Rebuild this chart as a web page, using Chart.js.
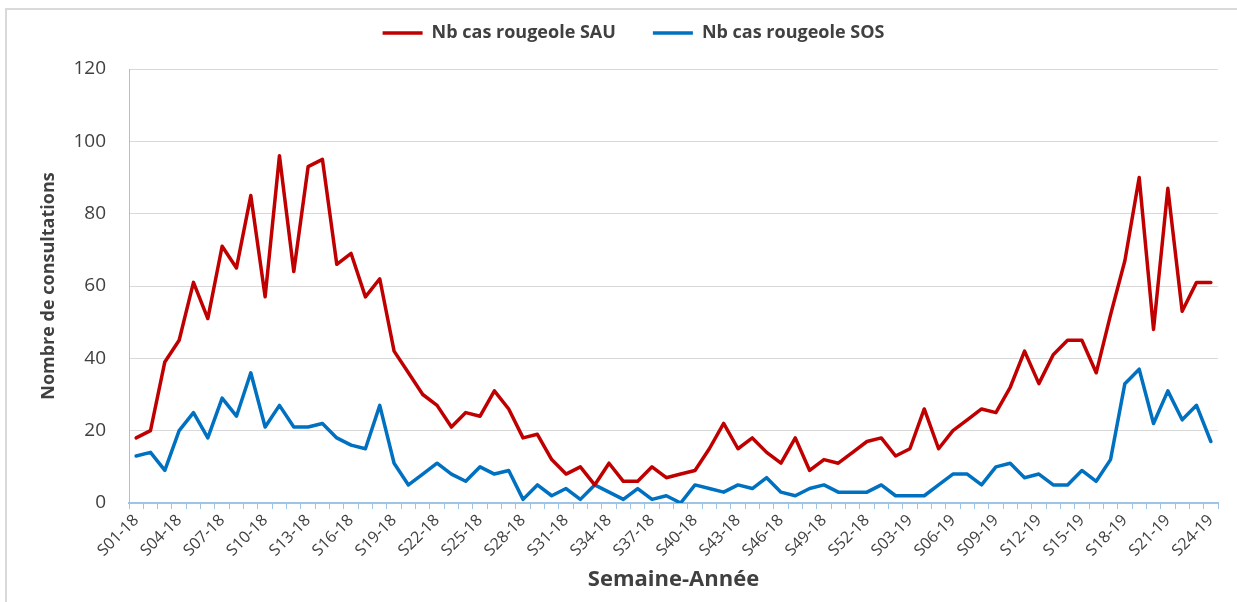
<!DOCTYPE html>
<html>
<head>
<meta charset="utf-8">
<script src="https://cdn.jsdelivr.net/npm/chart.js@4.4.1/dist/chart.umd.min.js"></script>
<style>
  html, body { margin: 0; padding: 0; background: #ffffff; }
  #wrap { position: relative; width: 1237px; height: 602px; }
</style>
</head>
<body>
<div id="wrap"><canvas id="c" width="1237" height="602"></canvas></div>
<script>
// Categories: week-year
const weeks = [
  'S01-18','S02-18','S03-18','S04-18','S05-18','S06-18','S07-18','S08-18','S09-18','S10-18',
  'S11-18','S12-18','S13-18','S14-18','S15-18','S16-18','S17-18','S18-18','S19-18','S20-18',
  'S21-18','S22-18','S23-18','S24-18','S25-18','S26-18','S27-18','S28-18','S29-18','S30-18',
  'S31-18','S32-18','S33-18','S34-18','S35-18','S36-18','S37-18','S38-18','S39-18','S40-18',
  'S41-18','S42-18','S43-18','S44-18','S45-18','S46-18','S47-18','S48-18','S49-18','S50-18',
  'S51-18','S52-18',
  'S01-19','S02-19','S03-19','S04-19','S05-19','S06-19','S07-19','S08-19','S09-19','S10-19',
  'S11-19','S12-19','S13-19','S14-19','S15-19','S16-19','S17-19','S18-19','S19-19','S20-19',
  'S21-19','S22-19','S23-19','S24-19'
];

// Nb cas rougeole SAU
const sau = [
  18, 20, 39, 45, 61, 51, 71, 65, 85, 57,
  96, 64, 93, 95, 66, 69, 57, 62, 42, 36,
  30, 27, 21, 25, 24, 31, 26, 18, 19, 12,
  8, 10, 5, 11, 6, 6, 10, 7, 8, 9,
  15, 22, 15, 18, 14, 11, 18, 9, 12, 11,
  14, 17,
  18, 13, 15, 26, 15, 20, 23, 26, 25, 32,
  42, 33, 41, 45, 45, 36, 52, 67, 90, 48,
  87, 53, 61, 61
];

// Nb cas rougeole SOS
const sos = [
  13, 14, 9, 20, 25, 18, 29, 24, 36, 21,
  27, 21, 21, 22, 18, 16, 15, 27, 11, 5,
  8, 11, 8, 6, 10, 8, 9, 1, 5, 2,
  4, 1, 5, 3, 1, 4, 1, 2, 0, 5,
  4, 3, 5, 4, 7, 3, 2, 4, 5, 3,
  3, 3,
  5, 2, 2, 2, 5, 8, 8, 5, 10, 11,
  7, 8, 5, 5, 9, 6, 12, 33, 37, 22,
  31, 23, 27, 17
];

// Y axis ticks
const yTicks = [0, 20, 40, 60, 80, 100, 120];

const seriesNames = ['Nb cas rougeole SAU', 'Nb cas rougeole SOS'];
const xTitle = 'Semaine-Année';
const yTitle = 'Nombre de consultations';

const FONT = "'Open Sans', 'Liberation Sans', sans-serif";
const TXT = '#404040';
const AXIS_BLUE = '#9dc3e6';

const frame = {
  id: 'frame',
  beforeDraw(chart) {
    const ctx = chart.ctx;
    ctx.save();
    ctx.strokeStyle = '#d9d9d9';
    ctx.lineWidth = 2;
    ctx.beginPath();
    ctx.moveTo(6, 700);
    ctx.lineTo(6, 9);
    ctx.lineTo(1300, 9);
    ctx.stroke();
    ctx.restore();
  }
};

const legendShift = {
  id: 'legendShift',
  afterLayout(chart) {
    const l = chart.legend;
    if (!l) return;
    const dx = 21, dy = -17;
    l.left += dx; l.right += dx;
    l.top += dy; l.bottom += dy;
  }
};

new Chart(document.getElementById('c'), {
  type: 'line',
  data: {
    labels: weeks,
    datasets: [
      {
        label: seriesNames[0],
        data: sau,
        borderColor: '#c00000',
        backgroundColor: '#c00000',
        borderWidth: 3.5,
        borderJoinStyle: 'round',
        borderCapStyle: 'round',
        pointRadius: 0,
        tension: 0,
        fill: false
      },
      {
        label: seriesNames[1],
        data: sos,
        borderColor: '#0070c0',
        backgroundColor: '#0070c0',
        borderWidth: 3.5,
        borderJoinStyle: 'round',
        borderCapStyle: 'round',
        pointRadius: 0,
        tension: 0,
        fill: false
      }
    ]
  },
  options: {
    responsive: false,
    devicePixelRatio: 1,
    animation: false,
    layout: { padding: { left: 7, right: 19, top: 4, bottom: 8 } },
    plugins: {
      tooltip: { enabled: false },
      legend: {
        position: 'top',
        align: 'center',
        labels: {
          usePointStyle: true,
          pointStyle: 'line',
          pointStyleWidth: 40,
          padding: 37,
          color: TXT,
          font: { family: FONT, size: 18, weight: 'bold' }
        }
      }
    },
    scales: {
      x: {
        type: 'category',
        offset: true,
        grid: {
          offset: true,
          display: true,
          drawOnChartArea: false,
          drawTicks: true,
          tickLength: 6,
          color: AXIS_BLUE,
          lineWidth: 1
        },
        border: { display: true, color: AXIS_BLUE, width: 2 },
        ticks: {
          autoSkip: false,
          minRotation: 45,
          maxRotation: 45,
          padding: 2,
          color: TXT,
          font: { family: FONT, size: 16 },
          callback: function (value, index) {
            return index % 3 === 0 ? weeks[index] : '';
          }
        },
        title: {
          display: true,
          text: xTitle,
          color: TXT,
          font: { family: FONT, size: 22, weight: 'bold' },
          padding: { top: 0, bottom: 1 }
        },
        afterFit: function (scale) { scale.height = 91; }
      },
      y: {
        min: 0,
        max: 120,
        afterBuildTicks: function (scale) {
          scale.ticks = yTicks.map(v => ({ value: v }));
        },
        grid: {
          color: '#d9d9d9',
          lineWidth: 1,
          drawTicks: false
        },
        border: { display: true, color: AXIS_BLUE, width: 1 },
        ticks: {
          padding: 23,
          color: TXT,
          font: { family: FONT, size: 19 }
        },
        title: {
          display: true,
          text: yTitle,
          color: TXT,
          font: { family: FONT, size: 18, weight: 'bold' },
          padding: { top: 31, bottom: 0 }
        },
        afterFit: function (scale) { scale.width = 122; }
      }
    }
  },
  plugins: [frame, legendShift]
});
</script>
</body>
</html>
